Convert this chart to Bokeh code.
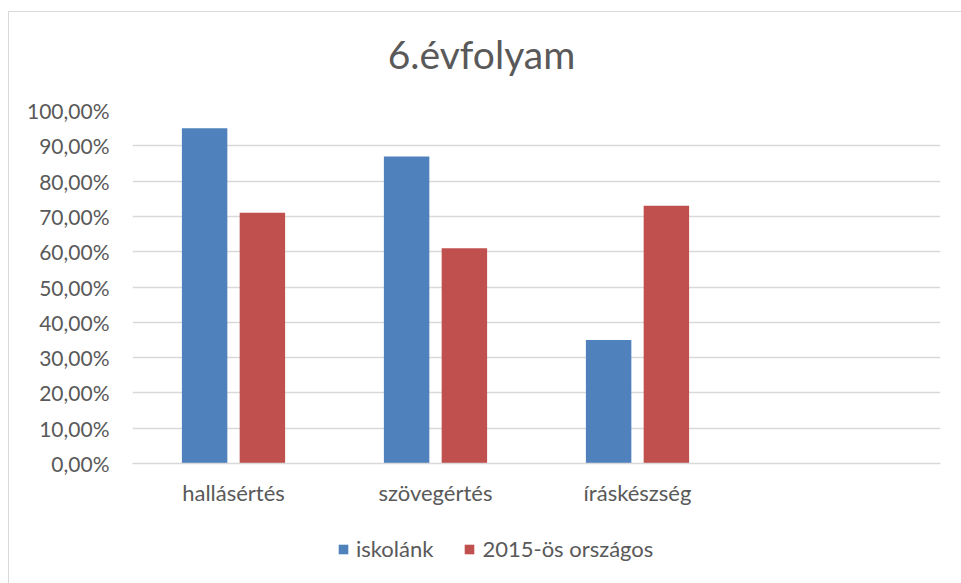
from bokeh.plotting import figure
from bokeh.layouts import column
from bokeh.models import (Range1d, FixedTicker, Legend, LegendItem, ColumnDataSource, Label)
from bokeh.embed import file_html
from bokeh.resources import INLINE

# ---- data ----
categories = ["hallásértés", "szövegértés", "íráskészség"]
series_names = ["iskolánk", "2015-ös országos"]
iskolank = [0.95, 0.87, 0.35]
orszagos = [0.71, 0.61, 0.73]
y_ticks = [0.0, 0.1, 0.2, 0.3, 0.4, 0.5, 0.6, 0.7, 0.8, 0.9, 1.0]
y_tick_labels = ["0,00%", "10,00%", "20,00%", "30,00%", "40,00%", "50,00%",
                 "60,00%", "70,00%", "80,00%", "90,00%", "100,00%"]
n_slots = 4  # the category axis has one empty slot at the end
title_text = "6.évfolyam"

BLUE = "#4F81BD"
RED = "#C0504D"
GRID = "#D9D9D9"
TXT = "#595959"
FONT = "Lato"

W = 952
H_TITLE = 80
H_MAIN = 431
H_LEG = 60


def strip(height):
    f = figure(width=W, height=height, output_backend="svg", toolbar_location=None,
               min_border=0, x_range=Range1d(0, n_slots), y_range=Range1d(10, 11))
    f.axis.visible = False
    f.grid.visible = False
    f.outline_line_color = None
    f.border_fill_color = "white"
    f.background_fill_color = "white"
    return f


# title strip
pt = strip(H_TITLE)
pt.add_layout(Label(x=349, y=39, x_units="screen", y_units="screen", text=title_text,
                    text_align="center", text_baseline="alphabetic",
                    text_font=FONT, text_font_size="39px", text_color=TXT))

# main chart
p = figure(width=W, height=H_MAIN, output_backend="svg", toolbar_location=None,
           x_range=Range1d(0, n_slots), y_range=Range1d(0, 1.0),
           min_border_left=123, min_border_right=21, min_border_top=18,
           min_border_bottom=60)
p.outline_line_color = None
p.background_fill_color = "white"
p.border_fill_color = "white"

centers = [i + 0.5 for i in range(len(categories))]
offset = 0.143
bw = 0.225
src1 = ColumnDataSource(dict(x=[c - offset for c in centers], top=iskolank))
src2 = ColumnDataSource(dict(x=[c + offset for c in centers], top=orszagos))
p.vbar(x="x", top="top", width=bw, source=src1, fill_color=BLUE, line_color=None)
p.vbar(x="x", top="top", width=bw, source=src2, fill_color=RED, line_color=None)

p.xaxis.ticker = FixedTicker(ticks=centers)
p.xaxis.major_label_overrides = {c: lab for c, lab in zip(centers, categories)}
p.xaxis.major_tick_line_color = None
p.xaxis.major_tick_out = 0
p.xaxis.major_tick_in = 0
p.xaxis.minor_tick_line_color = None
p.xaxis.axis_line_color = GRID
p.xaxis.axis_line_width = 1.5
p.xaxis.major_label_standoff = 15
p.xaxis.major_label_text_font = FONT
p.xaxis.major_label_text_font_size = "22px"
p.xaxis.major_label_text_color = TXT
p.xgrid.grid_line_color = None

p.yaxis.ticker = FixedTicker(ticks=y_ticks)
p.yaxis.major_label_overrides = {t: lab for t, lab in zip(y_ticks, y_tick_labels)}
p.yaxis.major_tick_line_color = None
p.yaxis.major_tick_out = 0
p.yaxis.major_tick_in = 0
p.yaxis.minor_tick_line_color = None
p.yaxis.axis_line_color = None
p.yaxis.major_label_standoff = 23
p.yaxis.major_label_text_font = FONT
p.yaxis.major_label_text_font_size = "21px"
p.yaxis.major_label_text_color = TXT
p.ygrid.ticker = FixedTicker(ticks=y_ticks)
p.ygrid.grid_line_color = GRID
p.ygrid.grid_line_width = 1.5

# legend strip; its renderers reuse the series sources but lie outside its visible y range
pl = strip(H_LEG)
l1 = pl.vbar(x="x", top="top", width=bw, source=src1, fill_color=BLUE, line_color=None)
l2 = pl.vbar(x="x", top="top", width=bw, source=src2, fill_color=RED, line_color=None)
legend = Legend(items=[LegendItem(label=series_names[0], renderers=[l1], index=0),
                       LegendItem(label=series_names[1], renderers=[l2], index=0)],
                location=(205, 21), orientation="horizontal",
                glyph_width=12, glyph_height=12, label_standoff=7, spacing=30,
                padding=0, margin=0, border_line_color=None, background_fill_alpha=0,
                label_text_font=FONT, label_text_font_size="22px", label_text_color=TXT)
pl.add_layout(legend)

layout = column(pt, p, pl, spacing=0)
layout.styles = {"border-top": "1px solid #D9D9D9", "border-left": "1px solid #D9D9D9",
                 "margin-top": "11px", "margin-left": "8px"}

open("out.html", "w").write(file_html(layout, INLINE))
